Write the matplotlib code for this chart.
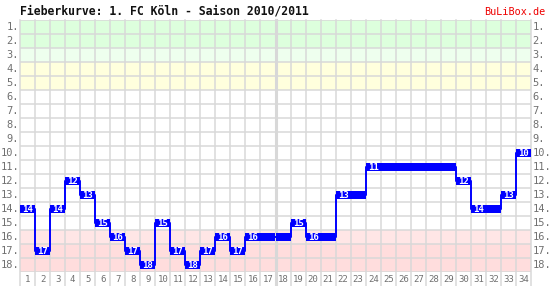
import matplotlib.pyplot as plt
import matplotlib.transforms as mtransforms
import numpy as np

matchdays = list(range(1, 35))
positions = [14, 17, 14, 12, 13, 15, 16, 17, 18, 15, 17, 18, 17, 16, 17, 16, 16,
             16, 15, 16, 16, 13, 13, 11, 11, 11, 11, 11, 11, 12, 14, 14, 13, 10]
ranks = list(range(1, 19))
title = "Fieberkurve: 1. FC Köln - Saison 2010/2011"

# background bands: (first rank, last rank, colour)
bands = [(1, 2, "#ddffdd"), (3, 3, "#eeffee"), (4, 5, "#ffffdd"),
         (16, 16, "#ffe6e6"), (17, 18, "#ffdddd")]

W, H = 551, 286
fig = plt.figure(figsize=(W / 100, H / 100), dpi=100)
ax = fig.add_axes([20 / W, (H - 272) / H, 511 / W, 252 / H])
ax.set_xlim(0.5, 34.5)
ax.set_ylim(18.5, 0.5)
ax.axis("off")

for lo, hi, col in bands:
    ax.axhspan(lo - 0.5, hi + 0.5, color=col, lw=0, zorder=0)

grid_col = "#d8d8d8"
trans = mtransforms.blended_transform_factory(ax.transData, ax.transAxes)
for k in range(35):
    lw = 2.2 if k == 17 else 1.1
    ax.plot([k + 0.5, k + 0.5], [-0.06, 1], color=grid_col, lw=lw,
            transform=trans, clip_on=False, zorder=1)
for r in range(19):
    ax.axhline(r + 0.5, color=grid_col, lw=1.1, zorder=1)

blue = "#0000ff"
ax.step(matchdays, positions, where="mid", color=blue, lw=1.4, zorder=3)
ax.barh(positions, [1.0] * len(matchdays), left=np.array(matchdays) - 0.5,
        height=0.56, color=blue, lw=0, zorder=4)

prev = None
for md, pos in zip(matchdays, positions):
    if pos != prev:
        ax.text(md, pos + 0.03, str(pos), color="white", fontsize=6.5,
                fontweight="bold", family="DejaVu Sans Mono",
                ha="center", va="center", zorder=5)
    prev = pos

tick_col = "#707070"
for r in ranks:
    ax.text(0.45, r, f"{r}.", color=tick_col, fontsize=7.5,
            family="DejaVu Sans Mono", ha="right", va="center")
    ax.text(34.6, r, f"{r}.", color=tick_col, fontsize=7.5,
            family="DejaVu Sans Mono", ha="left", va="center")
for md in matchdays:
    ax.text(md, -0.03, str(md), color=tick_col, fontsize=6.5,
            family="DejaVu Sans Mono", ha="center", va="center",
            transform=trans)

fig.text(20 / W, 1 - 11 / H, title, fontsize=8.3, fontweight="bold",
         family="DejaVu Sans Mono", ha="left", va="center", color="#111111")
fig.text(545 / W, 1 - 12 / H, "BuLiBox.de", fontsize=7.3, color="#ee0000",
         family="DejaVu Sans Mono", ha="right", va="center")

fig.savefig("out.png", dpi=100)
